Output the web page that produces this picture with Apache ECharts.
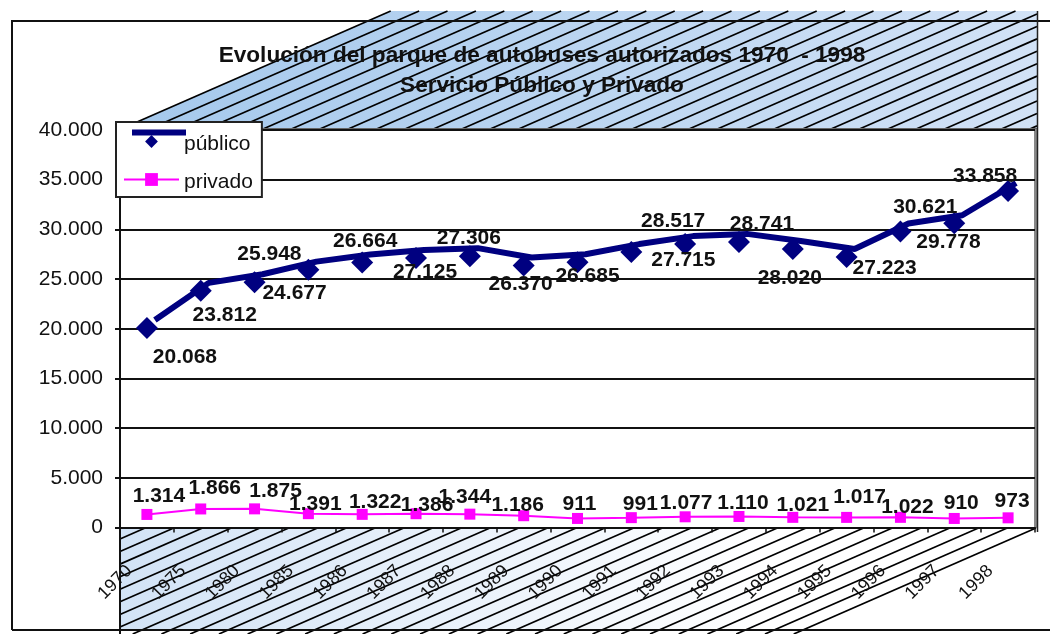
<!DOCTYPE html>
<html>
<head>
<meta charset="utf-8">
<style>html,body{margin:0;padding:0;background:#fff}#c{width:1050px;height:634px}</style>
<script src="https://cdn.jsdelivr.net/npm/echarts@6/dist/echarts.min.js"></script>
</head>
<body>
<div id="c"></div>
<script>
const years = ['1970','1975','1980','1985','1986','1987','1988','1989','1990','1991','1992','1993','1994','1995','1996','1997','1998'];
const publico = [20068,23812,24677,25948,26664,27125,27306,26370,26685,27715,28517,28741,28020,27223,29778,30621,33858];
const privado = [1314,1866,1875,1391,1322,1386,1344,1186,911,991,1077,1110,1021,1017,1022,910,973];
const publicoLabelOffsets = [[38,29],[24,24],[40,11],[-39,-15],[3,-21],[9,14],[-1,-18],[-3,19],[10,14],[52,8],[-12,-23],[23,-18],[-3,29],[38,11],[48,11],[-29,-16],[-23,-15]];
const privadoLabelOffsets = [[12,-18],[14,-21],[21,-18],[7,-9],[13,-12],[11,-9],[-5,-17],[-6,-11],[2,-14],[9,-13],[1,-14],[4,-13],[10,-12],[13,-20],[7,-10],[7,-15],[4,-17]];
const titleLines = 'Evolución del parque de autobuses autorizados 1970  - 1998\nServicio Público y Privado';

const FONT = '"Liberation Sans", Arial, sans-serif';
const L = 120, R = 1035, T = 130, B = 527.5;
const SLOPE = 0.4375, STEP_TOP = 28.4, STEP_FLOOR = 28.74;
const fmt = v => String(v).replace(/\B(?=(\d{3})+$)/g, '.');

function clipToRect(p0, k, x0, x1, y0, y1) {
  // line through p0 rising to the right with slope k, clipped to a rectangle
  let a = Math.max(x0, p0[0] - (y1 - p0[1]) / k);
  let b = Math.min(x1, p0[0] + (p0[1] - y0) / k);
  if (a >= b) return null;
  return { x1: a, y1: p0[1] - (a - p0[0]) * k, x2: b, y2: p0[1] - (b - p0[0]) * k };
}
const hatchStyle = { stroke: '#000', lineWidth: 1.7 };
const graphics = [];
// back wall above the plot
graphics.push({ type: 'polygon', z: -5, silent: true,
  shape: { points: [[121,129],[391,11],[1037,11],[1037,129]] },
  style: { fill: new echarts.graphic.LinearGradient(0,0,1,0,[{offset:0,color:'#a4c8ec'},{offset:1,color:'#d2e2f6'}]) } });
for (let k = 0; k < 60; k++) {
  const s = clipToRect([121 + k * STEP_TOP, 129], SLOPE, 120, 1037, 11, 129);
  if (s) graphics.push({ type: 'line', z: -4, silent: true, shape: s, style: hatchStyle });
}
// floor below the plot
graphics.push({ type: 'polygon', z: -5, silent: true,
  shape: { points: [[120,528],[1036,528],[803,630],[120,630]] },
  style: { fill: new echarts.graphic.LinearGradient(0,0,1,0,[{offset:0,color:'#d2e3f6'},{offset:0.7,color:'#ffffff'}]) } });
for (let k = 0; k < 60; k++) {
  const s = clipToRect([1036 - k * STEP_FLOOR, 528], SLOPE, 120, 1036, 528, 634);
  if (s) graphics.push({ type: 'line', z: -4, silent: true, shape: s, style: hatchStyle });
}
// chart frame
const frame = { stroke: '#111', lineWidth: 2 };
graphics.push({ type: 'line', z: -3, silent: true, shape: {x1:12,y1:21,x2:1050,y2:21}, style: frame });
graphics.push({ type: 'line', z: -3, silent: true, shape: {x1:12,y1:20,x2:12,y2:630}, style: frame });
graphics.push({ type: 'line', z: -3, silent: true, shape: {x1:12,y1:630,x2:1050,y2:630}, style: frame });
// walls' edges
graphics.push({ type: 'line', z: -2, silent: true, shape: {x1:120,y1:528,x2:120,y2:634}, style: {stroke:'#111',lineWidth:2} });
graphics.push({ type: 'line', z: -2, silent: true, shape: {x1:120,y1:129,x2:1037,y2:129}, style: {stroke:'#666',lineWidth:2} });
graphics.push({ type: 'line', z: -2, silent: true, shape: {x1:1035.5,y1:129,x2:1035.5,y2:528}, style: {stroke:'#888',lineWidth:3} });
graphics.push({ type: 'line', z: -2, silent: true, shape: {x1:1037.5,y1:11,x2:1037.5,y2:532}, style: {stroke:'#222',lineWidth:1.5} });
// legend's offset ribbon for "público"
graphics.push({ type: 'rect', z: 20, silent: true, shape: {x:132,y:129.5,width:54,height:6}, style: {fill:'#000080'} });

const valueAxis = gridIndex => ({
  type: 'value', gridIndex, min: 0, max: 40000, interval: 5000,
  axisLine: { show: gridIndex === 0, lineStyle: { color: '#111', width: 2 } },
  axisTick: { show: gridIndex === 0, length: 5, lineStyle: { color: '#111', width: 2 } },
  splitLine: { show: gridIndex === 0, lineStyle: { color: '#111', width: 2 } },
  axisLabel: { show: gridIndex === 0, formatter: fmt, fontFamily: FONT, fontSize: 21, color: '#111', margin: 17 }
});
const catAxis = gridIndex => ({
  type: 'category', gridIndex, data: years, boundaryGap: true,
  axisLine: { show: gridIndex === 0, lineStyle: { color: '#111', width: 2 } },
  axisTick: { show: gridIndex === 0, length: 5, alignWithLabel: false, lineStyle: { color: '#111', width: 1.5 } },
  axisLabel: { show: gridIndex === 0, interval: 0, rotate: 45, margin: 23, padding: [0, 25, 0, 0], fontFamily: FONT, fontSize: 18, color: '#111' }
});
const dataLabel = { show: true, position: 'inside', fontFamily: FONT, fontSize: 21, fontWeight: 'bold', color: '#111', formatter: p => fmt(p.value) };
const withOffsets = (vals, offs) => vals.map((v, i) => ({ value: v, label: { offset: offs[i] } }));

const option = {
  animation: false,
  backgroundColor: '#fff',
  title: { text: titleLines, left: 537, top: 36, textAlign: 'center',
    textStyle: { fontFamily: FONT, fontSize: 22.6, fontWeight: 'bold', color: '#111', lineHeight: 30 } },
  legend: {
    left: 116, top: 122, orient: 'vertical', padding: [12, 9, 4, 7], itemGap: 17,
    itemWidth: 55, itemHeight: 16,
    backgroundColor: '#fff', borderColor: '#222', borderWidth: 2, borderRadius: 0,
    formatter: name => '{a|' + name + '}',
    textStyle: { fontFamily: FONT, fontSize: 21, color: '#111',
      rich: { a: { fontFamily: FONT, fontSize: 21, color: '#111', padding: [6, 0, 0, 0] } } },
    data: ['público', 'privado']
  },
  grid: [
    { left: L, top: T, width: R - L, height: B - T, containLabel: false },
    { left: L + 8, top: T - 8, width: R - L, height: B - T, containLabel: false }
  ],
  xAxis: [catAxis(0), catAxis(1)],
  yAxis: [valueAxis(0), valueAxis(1)],
  graphic: graphics,
  series: [
    { name: 'público', type: 'line', xAxisIndex: 0, yAxisIndex: 0, data: withOffsets(publico, publicoLabelOffsets),
      symbol: 'diamond', symbolSize: 22, z: 3, itemStyle: { color: '#000080' }, lineStyle: { opacity: 0 }, label: dataLabel },
    { name: 'público', type: 'line', xAxisIndex: 1, yAxisIndex: 1, data: publico, symbol: 'none', z: 2, silent: true,
      lineStyle: { color: '#000080', width: 6 }, itemStyle: { color: '#000080' } },
    { name: 'privado', type: 'line', xAxisIndex: 0, yAxisIndex: 0, data: withOffsets(privado, privadoLabelOffsets),
      symbol: 'rect', symbolSize: 11, z: 3, itemStyle: { color: '#ff00ff' }, lineStyle: { color: '#ff00ff', width: 2 }, label: dataLabel }
  ]
};
echarts.init(document.getElementById('c'), null, { renderer: 'canvas' }).setOption(option);
</script>
</body>
</html>
